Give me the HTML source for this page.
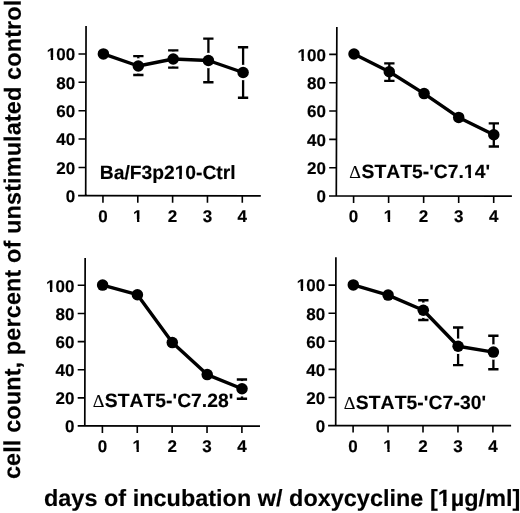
<!DOCTYPE html>
<html lang="en"><head><meta charset="utf-8"><title>Cell count vs days of incubation with doxycycline</title>
<style>
html,body{margin:0;padding:0;background:#fff}
svg{display:block;will-change:transform;filter:grayscale(1) blur(0.3px)}
text{font-family:"Liberation Sans",sans-serif;font-weight:bold;fill:#000;stroke:#000;stroke-width:0.15px;font-kerning:none;text-rendering:geometricPrecision}
.d{font-family:"Liberation Serif",serif;font-weight:normal;stroke-width:0.1px}
.ax{stroke:#000;fill:none}
</style></head>
<body>
<svg width="520" height="513" viewBox="0 0 520 513">
<rect width="520" height="513" fill="#fff"/>
<g id="TL">
<path class="ax" d="M86.05 26.05L85.70 195.70M78.10 195.70L260.80 195.90" stroke-width="1.7"/>
<path class="ax" d="M78.5 167.43H85.8M78.5 139.06H85.8M78.5 110.69H85.8M78.5 82.32H85.8M78.5 53.95H85.8M102.95 195.8V202.7M137.79 195.8V202.7M172.62 195.8V202.7M207.46 195.8V202.7M242.30 195.8V202.7" stroke-width="1.6"/>
<g font-size="17" text-anchor="end">
<text x="75.2" y="202.1">0</text>
<text x="75.2" y="173.7">20</text>
<text x="75.2" y="145.4">40</text>
<text x="75.2" y="117.0">60</text>
<text x="75.2" y="88.6">80</text>
<text x="75.2" y="60.2">100</text>
</g>
<g font-size="17" text-anchor="middle">
<text x="103.0" y="222.1">0</text>
<text x="137.8" y="222.1">1</text>
<text x="172.6" y="222.1">2</text>
<text x="207.5" y="222.1">3</text>
<text x="242.3" y="222.1">4</text>
</g>
<path class="ax" d="M138.3 56.1V75.0M173.2 50.4V67.6M208.4 38.6V82.2M243.1 47.3V97.7" stroke-width="2.3"/>
<circle cx="138.3" cy="66.0" r="7.75" fill="#fff"/>
<circle cx="173.2" cy="59.0" r="7.75" fill="#fff"/>
<circle cx="208.4" cy="60.5" r="7.75" fill="#fff"/>
<circle cx="243.1" cy="72.5" r="7.75" fill="#fff"/>
<path class="ax" d="M133.2 56.1h10.3M133.2 75.0h10.3M168.1 50.4h10.3M168.1 67.6h10.3M203.2 38.6h10.3M203.2 82.2h10.3M237.9 47.3h10.3M237.9 97.7h10.3" stroke-width="2.4"/>
<polyline class="ax" points="103.4,53.9 138.3,66.0 173.2,59.0 208.4,60.5 243.1,72.5" stroke-width="3.4" stroke-linejoin="round"/>
<circle cx="103.4" cy="53.9" r="5.75" fill="#000"/>
<circle cx="138.3" cy="66.0" r="5.75" fill="#000"/>
<circle cx="173.2" cy="59.0" r="5.75" fill="#000"/>
<circle cx="208.4" cy="60.5" r="5.75" fill="#000"/>
<circle cx="243.1" cy="72.5" r="5.75" fill="#000"/>
<text x="99.79" y="178.7" font-size="19.3" stroke-width="0.25" textLength="135.8" lengthAdjust="spacing">Ba/F3p210-Ctrl</text>
</g>
<g id="TR">
<path class="ax" d="M336.85 26.90L336.30 196.00M329.05 196.00L511.90 196.10" stroke-width="1.7"/>
<path class="ax" d="M329.2 167.72H336.6M329.2 139.39H336.6M329.2 111.06H336.6M329.2 82.73H336.6M329.2 54.40H336.6M353.60 196.1V203.0M388.62 196.1V203.0M423.65 196.1V203.0M458.68 196.1V203.0M493.70 196.1V203.0" stroke-width="1.6"/>
<g font-size="17" text-anchor="end">
<text x="325.9" y="202.4">0</text>
<text x="325.9" y="174.0">20</text>
<text x="325.9" y="145.7">40</text>
<text x="325.9" y="117.4">60</text>
<text x="325.9" y="89.0">80</text>
<text x="325.9" y="60.7">100</text>
</g>
<g font-size="17" text-anchor="middle">
<text x="353.6" y="222.4">0</text>
<text x="388.6" y="222.4">1</text>
<text x="423.6" y="222.4">2</text>
<text x="458.7" y="222.4">3</text>
<text x="493.7" y="222.4">4</text>
</g>
<path class="ax" d="M389.3 63.4V80.9M493.8 123.4V146.5" stroke-width="2.3"/>
<path class="ax" d="M384.2 63.4h10.3M384.2 80.9h10.3M488.7 123.4h10.3M488.7 146.5h10.3" stroke-width="2.4"/>
<polyline class="ax" points="354.0,54.0 389.3,71.8 424.1,93.6 458.7,117.4 493.8,134.8" stroke-width="3.4" stroke-linejoin="round"/>
<circle cx="354.0" cy="54.0" r="5.75" fill="#000"/>
<circle cx="389.3" cy="71.8" r="5.75" fill="#000"/>
<circle cx="424.1" cy="93.6" r="5.75" fill="#000"/>
<circle cx="458.7" cy="117.4" r="5.75" fill="#000"/>
<circle cx="493.8" cy="134.8" r="5.75" fill="#000"/>
<text class="d" x="349.35" y="177.6" font-size="18.2">&#916;</text>
<text x="361.48" y="177.6" font-size="19.3" stroke-width="0.25" textLength="128.5" lengthAdjust="spacing">STAT5-'C7.14'</text>
</g>
<g id="BL">
<path class="ax" d="M85.15 257.90L84.80 425.90M77.70 425.90L260.00 426.10" stroke-width="1.7"/>
<path class="ax" d="M77.7 397.86H85.0M77.7 369.72H85.0M77.7 341.58H85.0M77.7 313.44H85.0M77.7 285.30H85.0M102.40 426.0V432.9M137.28 426.0V432.9M172.15 426.0V432.9M207.03 426.0V432.9M241.90 426.0V432.9" stroke-width="1.6"/>
<g font-size="17" text-anchor="end">
<text x="74.4" y="432.3">0</text>
<text x="74.4" y="404.2">20</text>
<text x="74.4" y="376.0">40</text>
<text x="74.4" y="347.9">60</text>
<text x="74.4" y="319.7">80</text>
<text x="74.4" y="291.6">100</text>
</g>
<g font-size="17" text-anchor="middle">
<text x="102.4" y="452.3">0</text>
<text x="137.3" y="452.3">1</text>
<text x="172.2" y="452.3">2</text>
<text x="207.0" y="452.3">3</text>
<text x="241.9" y="452.3">4</text>
</g>
<path class="ax" d="M242.0 379.5V398.8" stroke-width="2.3"/>
<circle cx="242.0" cy="388.8" r="7.75" fill="#fff"/>
<path class="ax" d="M236.8 379.5h10.3M236.8 398.8h10.3" stroke-width="2.4"/>
<polyline class="ax" points="102.6,285.1 137.4,294.7 172.3,342.6 207.2,374.6 242.0,388.8" stroke-width="3.4" stroke-linejoin="round"/>
<circle cx="102.6" cy="285.1" r="5.75" fill="#000"/>
<circle cx="137.4" cy="294.7" r="5.75" fill="#000"/>
<circle cx="172.3" cy="342.6" r="5.75" fill="#000"/>
<circle cx="207.2" cy="374.6" r="5.75" fill="#000"/>
<circle cx="242.0" cy="388.8" r="5.75" fill="#000"/>
<text class="d" x="92.65" y="407.3" font-size="18.2">&#916;</text>
<text x="104.78" y="407.3" font-size="19.3" stroke-width="0.25" textLength="128.6" lengthAdjust="spacing">STAT5-'C7.28'</text>
</g>
<g id="BR">
<path class="ax" d="M335.90 257.30L335.70 425.60M328.10 425.60L511.10 425.60" stroke-width="1.7"/>
<path class="ax" d="M328.5 397.50H335.8M328.5 369.40H335.8M328.5 341.30H335.8M328.5 313.20H335.8M328.5 285.10H335.8M353.10 425.6V432.5M388.05 425.6V432.5M423.00 425.6V432.5M457.95 425.6V432.5M492.90 425.6V432.5" stroke-width="1.6"/>
<g font-size="17" text-anchor="end">
<text x="325.2" y="431.9">0</text>
<text x="325.2" y="403.8">20</text>
<text x="325.2" y="375.7">40</text>
<text x="325.2" y="347.6">60</text>
<text x="325.2" y="319.5">80</text>
<text x="325.2" y="291.4">100</text>
</g>
<g font-size="17" text-anchor="middle">
<text x="353.1" y="451.9">0</text>
<text x="388.1" y="451.9">1</text>
<text x="423.0" y="451.9">2</text>
<text x="457.9" y="451.9">3</text>
<text x="492.9" y="451.9">4</text>
</g>
<path class="ax" d="M423.3 300.3V320.0M458.1 327.5V365.1M493.4 335.8V369.2" stroke-width="2.3"/>
<circle cx="423.3" cy="310.2" r="7.75" fill="#fff"/>
<circle cx="458.1" cy="346.3" r="7.75" fill="#fff"/>
<circle cx="493.4" cy="352.1" r="7.75" fill="#fff"/>
<path class="ax" d="M418.2 300.3h10.3M418.2 320.0h10.3M453.0 327.5h10.3M453.0 365.1h10.3M488.2 335.8h10.3M488.2 369.2h10.3" stroke-width="2.4"/>
<polyline class="ax" points="353.3,284.9 388.1,295.1 423.3,310.2 458.1,346.3 493.4,352.1" stroke-width="3.4" stroke-linejoin="round"/>
<circle cx="353.3" cy="284.9" r="5.75" fill="#000"/>
<circle cx="388.1" cy="295.1" r="5.75" fill="#000"/>
<circle cx="423.3" cy="310.2" r="5.75" fill="#000"/>
<circle cx="458.1" cy="346.3" r="5.75" fill="#000"/>
<circle cx="493.4" cy="352.1" r="5.75" fill="#000"/>
<text class="d" x="343.65" y="408.8" font-size="18.2">&#916;</text>
<text x="355.78" y="408.8" font-size="19.3" stroke-width="0.25" textLength="130.4" lengthAdjust="spacing">STAT5-'C7-30'</text>
</g>
<text x="44.0" y="505.7" font-size="23.4" textLength="476.3" lengthAdjust="spacing">days of incubation w/ doxycycline [1&#181;g/ml]</text>
<text transform="translate(20.1 479.1) rotate(-89.92)" font-size="23.4" textLength="479.4" lengthAdjust="spacing">cell count, percent of unstimulated control</text>
<g fill="#fff"><rect x="46.42" y="57.18" width="4.37" height="4.35"/><rect x="53.13" y="57.18" width="3.55" height="4.35"/><rect x="132.67" y="219.08" width="4.37" height="4.35"/><rect x="139.37" y="219.08" width="3.55" height="4.35"/><rect x="174.24" y="175.44" width="4.90" height="4.64"/><rect x="181.80" y="175.44" width="3.98" height="4.64"/><rect x="297.12" y="57.68" width="4.37" height="4.35"/><rect x="303.83" y="57.68" width="3.55" height="4.35"/><rect x="383.47" y="219.38" width="4.37" height="4.35"/><rect x="390.17" y="219.38" width="3.55" height="4.35"/><rect x="463.47" y="174.34" width="4.90" height="4.64"/><rect x="471.02" y="174.34" width="3.98" height="4.64"/><rect x="45.63" y="288.58" width="4.37" height="4.35"/><rect x="52.33" y="288.58" width="3.55" height="4.35"/><rect x="132.17" y="449.28" width="4.37" height="4.35"/><rect x="138.87" y="449.28" width="3.55" height="4.35"/><rect x="296.43" y="288.38" width="4.37" height="4.35"/><rect x="303.13" y="288.38" width="3.55" height="4.35"/><rect x="382.97" y="448.88" width="4.37" height="4.35"/><rect x="389.67" y="448.88" width="3.55" height="4.35"/><rect x="437.32" y="502.00" width="5.86" height="5.16"/><rect x="446.40" y="502.00" width="4.74" height="5.16"/></g>
</svg>
</body></html>
